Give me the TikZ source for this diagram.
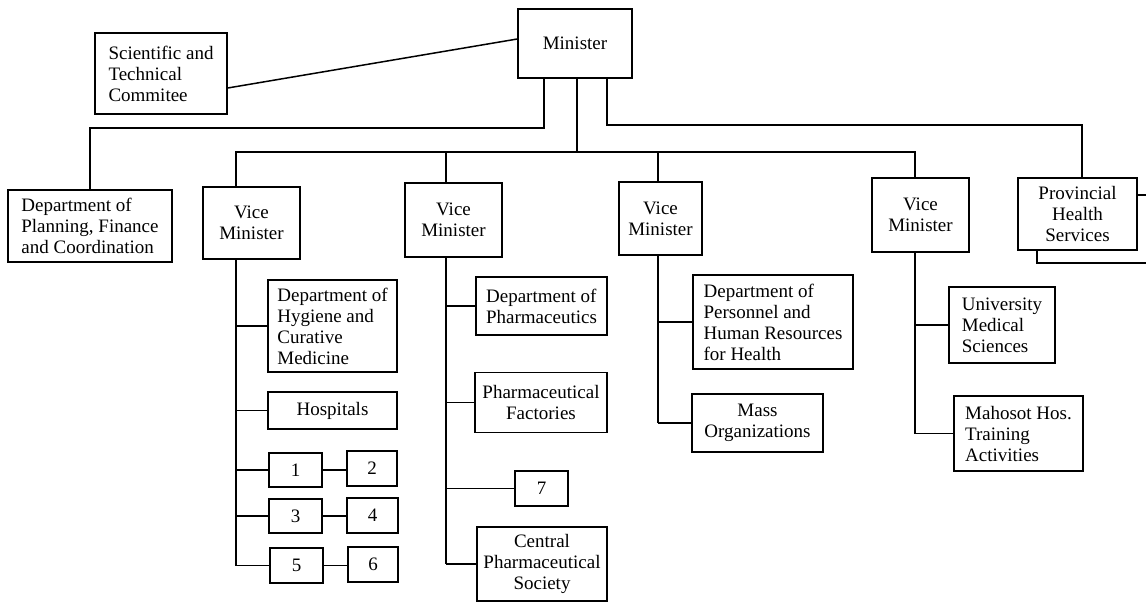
\documentclass[tikz,border=0pt]{standalone}
\usepackage{fontspec}
\setmainfont{Liberation Serif}
\begin{document}
\begin{tikzpicture}[x=1pt,y=-1pt,
  box/.style={draw, line width=1.5pt, inner sep=0pt,
    font=\fontsize{19}{21}\selectfont, align=center},
  lbox/.style={box, align=left},
  link/.style={line width=1.5pt}]
\fill[white] (0,0) rectangle (1146,602);
\useasboundingbox (0,0) rectangle (1146,602);

% top level
\node[box, minimum width=114pt, minimum height=69pt] (min) at (575,43.5) {Minister};
\node[lbox, minimum width=132pt, minimum height=81pt] (sci) at (161,73.5)
  {Scientific and\\Technical\\Commitee};
\node[lbox, minimum width=164pt, minimum height=72pt] (dpf) at (90,226)
  {Department of\\Planning, Finance\\and Coordination};
\node[box, minimum width=97pt, minimum height=72pt] (vm1) at (251.5,223) {Vice\\Minister};
\node[box, minimum width=97pt, minimum height=74pt] (vm2) at (453.5,220) {Vice\\Minister};
\node[box, minimum width=83pt, minimum height=73pt] (vm3) at (660.5,218.5) {Vice\\Minister};
\node[box, minimum width=97pt, minimum height=74pt] (vm4) at (920.5,215) {Vice\\Minister};
\node[box, minimum width=119pt, minimum height=72pt] (prov) at (1077.5,214)
  {Provincial\\Health\\Services};

% first vice minister
\node[lbox, minimum width=129pt, minimum height=92pt] (hyg) at (332.5,326)
  {Department of\\Hygiene and\\Curative\\Medicine};
\node[box, minimum width=129pt, minimum height=37pt] (hosp) at (332.5,410.5) {Hospitals};
\node[box, minimum width=53pt, minimum height=34pt] (b1) at (295.5,470) {1};
\node[box, minimum width=50pt, minimum height=35pt] (b2) at (372,468.5) {2};
\node[box, minimum width=53pt, minimum height=34pt] (b3) at (295.5,516) {3};
\node[box, minimum width=51pt, minimum height=35pt] (b4) at (372.5,515.5) {4};
\node[box, minimum width=53pt, minimum height=35pt] (b5) at (296.5,565.5) {5};
\node[box, minimum width=50pt, minimum height=35pt] (b6) at (373,564.5) {6};

% second vice minister
\node[lbox, minimum width=131pt, minimum height=58pt] (dph) at (541.5,306)
  {Department of\\Pharmaceutics};
\node[box, minimum width=132pt, minimum height=60pt] (pf) at (541,402.5)
  {Pharmaceutical\\Factories};
\node[box, minimum width=53pt, minimum height=35pt] (b7) at (541.5,488.5) {7};
\node[box, minimum width=130pt, minimum height=74pt] (cps) at (542,564)
  {Central\\Pharmaceutical\\Society};

% third vice minister
\node[lbox, minimum width=160pt, minimum height=94pt] (dpr) at (773,322)
  {Department of\\Personnel and\\Human Resources\\for Health};
\node[box, minimum width=131pt, minimum height=58pt] (mass) at (757.5,423)
  {Mass\\Organizations};

% fourth vice minister
\node[lbox, minimum width=106pt, minimum height=76pt] (ums) at (1002,325)
  {University\\Medical\\Sciences};
\node[lbox, minimum width=129pt, minimum height=75pt] (mah) at (1018.5,433.5)
  {Mahosot Hos.\\Training\\Activities};

% branch positions
\coordinate (mA) at (544,0);
\coordinate (mB) at (577,0);
\coordinate (mC) at (607,0);
\coordinate (busA) at (0,128);
\coordinate (busB) at (0,152);
\coordinate (busC) at (0,125);
\coordinate (v1) at (236,0);
\coordinate (v2) at (446,0);
\coordinate (v3) at (658,0);
\coordinate (v4) at (915,0);
\coordinate (p) at (1082,0);
\coordinate (pb) at (1037,0);
\coordinate (e1) at (1146,195);
\coordinate (e2) at (1146,263);

% minister links
\draw[link] ([yshift=-14.5pt]sci.east) -- ([yshift=4.5pt]min.west);
\draw[link] (min.south -| mA) |- (dpf.north |- busA) -- (dpf.north);
\draw[link] (min.south -| mB) -- (mB |- busB);
\draw[link] (v1 |- vm1.north) |- (v4 |- busB) -- (v4 |- vm4.north);
\draw[link] (v2 |- busB) -- (v2 |- vm2.north);
\draw[link] (v3 |- busB) -- (v3 |- vm3.north);
\draw[link] (min.south -| mC) |- (p |- busC) -- (p |- prov.north);
\draw[link] (prov.east |- e1) -- (e1);
\draw[link] (prov.south -| pb) |- (e2);

% first vice minister links
\draw[link] (v1 |- vm1.south) -- (v1 |- b5.west);
\draw[link] (v1 |- hyg.west) -- (hyg.west);
\draw[link] (v1 |- hosp.west) -- (hosp.west);
\draw[link] (v1 |- b1.west) -- (b1.west);
\draw[link] (v1 |- b3.west) -- (b3.west);
\draw[link] (v1 |- b5.west) -- (b5.west);
\draw[link] (b1.east) -- (b1.east -| b2.west);
\draw[link] (b3.east) -- (b3.east -| b4.west);
\draw[link] (b5.east) -- (b5.east -| b6.west);

% second vice minister links
\draw[link] (v2 |- vm2.south) -- (v2 |- cps.west);
\draw[link] (v2 |- dph.west) -- (dph.west);
\draw[link] (v2 |- pf.west) -- (pf.west);
\draw[link] (v2 |- b7.west) -- (b7.west);
\draw[link] (v2 |- cps.west) -- (cps.west);

% third vice minister links
\draw[link] (v3 |- vm3.south) -- (v3 |- mass.west);
\draw[link] (v3 |- dpr.west) -- (dpr.west);
\draw[link] (v3 |- mass.west) -- (mass.west);

% fourth vice minister links
\draw[link] (v4 |- vm4.south) -- (v4 |- mah.west);
\draw[link] (v4 |- ums.west) -- (ums.west);
\draw[link] (v4 |- mah.west) -- (mah.west);
\end{tikzpicture}
\end{document}
